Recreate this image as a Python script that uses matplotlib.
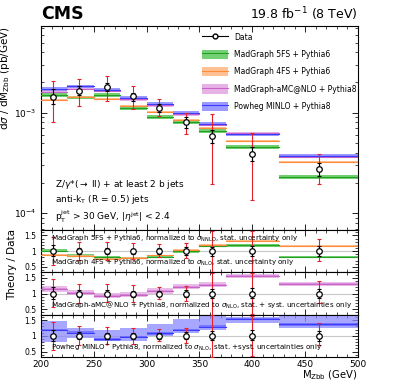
import numpy as np
import matplotlib
matplotlib.use('Agg')
import matplotlib.pyplot as plt
from matplotlib.patches import Patch
from matplotlib.lines import Line2D

# binning and data
edges = [200, 225, 250, 275, 300, 325, 350, 375, 425, 500]
x_data = [211, 236, 262, 287, 312, 337, 362, 400, 463]
data = [1.44e-3, 1.65e-3, 1.80e-3, 1.46e-3, 1.12e-3, 8.0e-4, 5.87e-4, 3.86e-4, 2.76e-4]
stat_hi = [1.72e-3, 1.84e-3, 1.99e-3, 1.58e-3, 1.22e-3, 9.0e-4, 6.73e-4, 4.53e-4, 3.18e-4]
stat_lo = [1.21e-3, 1.49e-3, 1.63e-3, 1.32e-3, 1.02e-3, 7.1e-4, 5.03e-4, 3.31e-4, 2.35e-4]
tot_hi = [2.08e-3, 2.15e-3, 2.32e-3, 1.84e-3, 1.36e-3, 1.0e-3, 9.7e-4, 6.33e-4, 3.86e-4]
tot_lo = [8.1e-4, 1.17e-3, 1.31e-3, 1.08e-3, 9.3e-4, 6.14e-4, 1.93e-4, 1.36e-4, 1.94e-4]

# theory predictions (pb/GeV)
mg5fs = [1.51e-3, 1.42e-3, 1.50e-3, 1.12e-3, 9.1e-4, 8.0e-4, 6.53e-4, 4.59e-4, 2.31e-4]
mg4fs = [1.33e-3, 1.44e-3, 1.36e-3, 1.18e-3, 1.01e-3, 8.4e-4, 7.04e-4, 5.27e-4, 3.21e-4]
amc = [1.62e-3, 1.73e-3, 1.65e-3, 1.37e-3, 1.19e-3, 9.7e-4, 7.6e-4, 6.24e-4, 3.66e-4]
powheg = [1.73e-3, 1.83e-3, 1.69e-3, 1.40e-3, 1.23e-3, 1.0e-3, 7.78e-4, 6.1e-4, 3.74e-4]

# theory / data ratios
r_mg5fs = [1.02, 0.86, 0.80, 0.78, 0.82, 0.99, 1.16, 1.18, 0.82]
r_mg4fs = [0.89, 0.86, 0.76, 0.78, 0.87, 1.05, 1.20, 1.33, 1.16]
r_amc = [1.14, 1.03, 0.93, 0.96, 1.08, 1.21, 1.28, 1.55, 1.30]
r_amc_err = [0.09, 0.08, 0.08, 0.08, 0.08, 0.08, 0.08, 0.06, 0.07]
r_pw = [1.18, 1.10, 0.89, 0.97, 1.08, 1.18, 1.29, 1.53, 1.36]
r_pw_up = [1.48, 1.25, 1.18, 1.24, 1.36, 1.53, 1.68, 1.60, 1.62]
r_pw_dn = [0.81, 0.92, 0.85, 0.85, 1.00, 1.10, 1.20, 1.41, 1.24]

GREEN = ('#5cc85c', '#22a022')
ORANGE = ('#ffb580', '#ff8c3a')
VIOLET = ('#e3a6e3', '#c864c8')
BLUE = ('#8a8aff', '#3c3cff')

W, H = 399, 383
fig = plt.figure(figsize=(W / 100, H / 100), dpi=100)


def px_axes(left, top, right, bottom):
    return fig.add_axes([left / W, 1 - bottom / H, (right - left) / W, (bottom - top) / H])


def step_band(ax, lo, hi, color, alpha=1.0):
    for i in range(len(lo)):
        ax.fill_between([edges[i], edges[i + 1]], lo[i], hi[i], color=color,
                        alpha=alpha, lw=0, zorder=2)


def step_line(ax, vals, color, lw=1.0):
    for i in range(len(vals)):
        ax.plot([edges[i], edges[i + 1]], [vals[i], vals[i]], color=color, lw=lw, zorder=3)


def style(ax):
    ax.set_xlim(200, 500)
    ax.xaxis.set_major_locator(plt.MultipleLocator(50))
    ax.xaxis.set_minor_locator(plt.MultipleLocator(10))
    ax.tick_params(which='both', direction='in', top=True, right=True, labelsize=6.5)
    ax.tick_params(which='major', length=4, width=0.6)
    ax.tick_params(which='minor', length=2, width=0.5)
    for s in ax.spines.values():
        s.set_linewidth(0.8)


def draw_data_main(ax):
    x = np.array(x_data)
    y = np.array(data)
    ax.errorbar(x, y, yerr=[y - np.array(tot_lo), np.array(tot_hi) - y], fmt='none',
                ecolor='#e8202a', elinewidth=0.8, capsize=1.5, capthick=0.8, zorder=5)
    ax.errorbar(x, y, yerr=[y - np.array(stat_lo), np.array(stat_hi) - y], fmt='none',
                ecolor='black', elinewidth=0.8, capsize=1.5, capthick=0.8, zorder=6)
    ax.plot(x, y, 'o', mfc='white', mec='black', ms=4, mew=0.9, zorder=7)


def draw_data_ratio(ax):
    x = np.array(x_data)
    y = np.array(data)
    ones = np.ones(len(x))
    ax.axhline(1, color='#c8c8c8', lw=0.8, zorder=1)
    ax.errorbar(x, ones, yerr=[1 - np.array(tot_lo) / y, np.array(tot_hi) / y - 1], fmt='none',
                ecolor='#e8202a', elinewidth=0.8, capsize=1.5, capthick=0.8, zorder=5)
    ax.errorbar(x, ones, yerr=[1 - np.array(stat_lo) / y, np.array(stat_hi) / y - 1], fmt='none',
                ecolor='black', elinewidth=0.8, capsize=1.5, capthick=0.8, zorder=6)
    ax.plot(x, ones, 'o', mfc='white', mec='black', ms=4, mew=0.9, zorder=7)


# ---- main panel
ax = px_axes(41, 26, 358, 230)
ax.set_yscale('log')
ax.set_ylim(6.8e-5, 7.3e-3)
style(ax)
ax.tick_params(labelbottom=False)
ax.yaxis.set_major_locator(matplotlib.ticker.LogLocator(base=10, numticks=10))
ax.yaxis.set_minor_formatter(matplotlib.ticker.NullFormatter())

for vals, (light, dark), rel in [(mg5fs, GREEN, 0.045), (mg4fs, ORANGE, 0.02),
                                 (amc, VIOLET, 0.035), (powheg, BLUE, 0.04)]:
    v = np.array(vals)
    step_band(ax, v * (1 - rel), v * (1 + rel), light, alpha=0.85)
    step_line(ax, v, dark, lw=0.8)
draw_data_main(ax)

ax.set_ylabel(r'd$\sigma$ / dM$_{\mathrm{Zbb}}$ (pb/GeV)', fontsize=7.5, loc='top')
ax.yaxis.set_label_coords(-0.09, 1.0)

fig.text(41 / W, 1 - 14 / H, 'CMS', fontsize=12.5, fontweight='bold', va='center', ha='left')
fig.text(358 / W, 1 - 14 / H, r'19.8 fb$^{-1}$ (8 TeV)', fontsize=9, va='center', ha='right')

ax.text(0.045, 0.21, r'Z/$\gamma$*($\rightarrow$ ll) + at least 2 b jets', transform=ax.transAxes, fontsize=6.5)
ax.text(0.045, 0.135, r'anti-k$_\mathrm{T}$ (R = 0.5) jets', transform=ax.transAxes, fontsize=6.5)
ax.text(0.045, 0.045, r'p$_\mathrm{T}^\mathrm{jet}$ > 30 GeV, |$\eta^\mathrm{jet}$| < 2.4', transform=ax.transAxes, fontsize=6.5)

handles = [
    Line2D([], [], color='black', lw=0.8, marker='o', mfc='white', mec='black', ms=3.5),
    (Patch(facecolor=GREEN[0], alpha=0.85), Line2D([], [], color=GREEN[1], lw=0.8)),
    (Patch(facecolor=ORANGE[0], alpha=0.85), Line2D([], [], color=ORANGE[1], lw=0.8)),
    (Patch(facecolor=VIOLET[0], alpha=0.85), Line2D([], [], color=VIOLET[1], lw=0.8)),
    (Patch(facecolor=BLUE[0], alpha=0.85), Line2D([], [], color=BLUE[1], lw=0.8)),
]
labels = ['Data', 'MadGraph 5FS + Pythia6', 'MadGraph 4FS + Pythia6',
          'MadGraph-aMC@NLO + Pythia8', 'Powheg MINLO + Pythia8']
ax.legend(handles, labels, loc='upper left', bbox_to_anchor=(0.49, 0.995), frameon=False,
          fontsize=5.5, handlelength=3.4, handleheight=1.5, labelspacing=1.05, borderaxespad=0.3)

# ---- ratio panels
tops = [230, 272.3, 314.7]
bots = [272.3, 314.7, 357]
rax = []
for t, b in zip(tops, bots):
    a = px_axes(41, t, 358, b)
    a.set_ylim(0.33, 1.67)
    a.set_yticks([0.5, 1, 1.5])
    a.set_yticklabels(['0.5', '1', '1.5'])
    a.yaxis.set_minor_locator(plt.MultipleLocator(0.1))
    style(a)
    a.tick_params(labelsize=5.5)
    rax.append(a)
for a in rax[:2]:
    a.tick_params(labelbottom=False)
rax[2].tick_params(axis='x', labelsize=6.5, pad=2)

# panel 1: MadGraph 5FS and 4FS
r5 = np.array(r_mg5fs)
r4 = np.array(r_mg4fs)
step_band(rax[0], r5 - 0.04, r5 + 0.04, GREEN[0], alpha=0.85)
step_line(rax[0], r5, GREEN[1], lw=0.8)
step_band(rax[0], r4 - 0.02, r4 + 0.02, ORANGE[0], alpha=0.85)
step_line(rax[0], r4, ORANGE[1], lw=0.8)
draw_data_ratio(rax[0])
rax[0].text(0.03, 0.74, r'MadGraph 5FS + Pythia6, normalized to $\sigma_\mathrm{NNLO}$, stat. uncertainty only',
            transform=rax[0].transAxes, fontsize=5.1, zorder=10)
rax[0].text(0.03, 0.17, r'MadGraph 4FS + Pythia6, normalized to $\sigma_\mathrm{NLO}$, stat. uncertainty only',
            transform=rax[0].transAxes, fontsize=5.1, zorder=10)

# panel 2: aMC@NLO
ra = np.array(r_amc)
re = np.array(r_amc_err)
step_band(rax[1], ra - re, ra + re, VIOLET[0], alpha=0.75)
step_band(rax[1], ra - 0.03, ra + 0.03, VIOLET[1], alpha=0.45)
step_line(rax[1], ra, VIOLET[1], lw=0.8)
draw_data_ratio(rax[1])
rax[1].text(0.03, 0.17, r'MadGraph-aMC@NLO + Pythia8, normalized to $\sigma_\mathrm{NLO}$, stat. + syst. uncertainties only',
            transform=rax[1].transAxes, fontsize=5.1, zorder=10)

# panel 3: Powheg
rp = np.array(r_pw)
step_band(rax[2], np.array(r_pw_dn), np.array(r_pw_up), BLUE[0], alpha=0.75)
step_band(rax[2], rp - 0.04, rp + 0.04, BLUE[1], alpha=0.45)
step_line(rax[2], rp, BLUE[1], lw=0.8)
draw_data_ratio(rax[2])
rax[2].text(0.03, 0.17, r'Powheg MINLO$^{+}$ Pythia8, normalized to $\sigma_\mathrm{NLO}$, stat. +syst. uncertainties only',
            transform=rax[2].transAxes, fontsize=5.1, zorder=10)

fig.text(358 / W, 1 - 382 / H, r'M$_{\mathrm{Zbb}}$ (GeV)', fontsize=7.2, ha='right', va='bottom')
fig.text(12 / W, 1 - 265 / H, 'Theory / Data', rotation=90, fontsize=7.5, ha='center', va='center')

fig.savefig('out.png', dpi=100)
